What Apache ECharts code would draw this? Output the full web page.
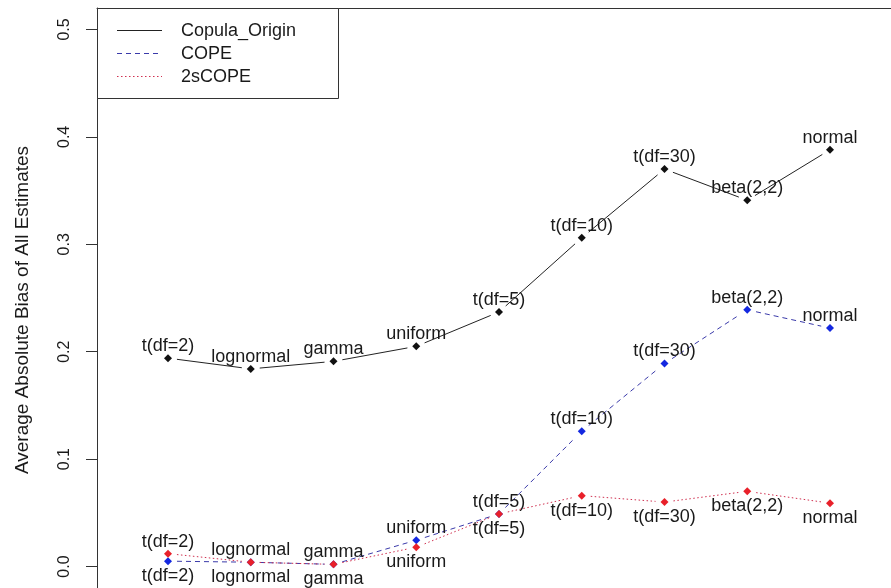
<!DOCTYPE html>
<html>
<head>
<meta charset="utf-8">
<script src="https://cdn.jsdelivr.net/npm/echarts@6/dist/echarts.min.js"></script>
<style>
  html, body { margin: 0; padding: 0; background: #fff; }
  #chart { width: 891px; height: 588px; }
</style>
</head>
<body>
<div id="chart"></div>
<script>
// Distributions on the x axis, in plotting order
const categories = ['t(df=2)', 'lognormal', 'gamma', 'uniform', 't(df=5)', 't(df=10)', 't(df=30)', 'beta(2,2)', 'normal'];

// Average absolute bias for each method
const copulaOrigin = [0.194, 0.184, 0.191, 0.205, 0.237, 0.306, 0.370, 0.341, 0.388];
const cope         = [0.005, 0.004, 0.002, 0.0245, 0.049, 0.126, 0.189, 0.239, 0.222];
const twoSCope     = [0.012, 0.004, 0.002, 0.018, 0.049, 0.066, 0.060, 0.070, 0.059];

// Y tick values
const yTicks = [0.0, 0.1, 0.2, 0.3, 0.4, 0.5];

// Which side of the point each label sits on
const copulaLabelSide = ['top', 'top', 'top', 'top', 'top', 'top', 'top', 'top', 'top'];
const copeLabelSide   = ['bottom', 'bottom', 'bottom', 'top', 'top', 'top', 'top', 'top', 'top'];
const twoSLabelSide   = ['top', 'top', 'top', 'bottom', 'bottom', 'bottom', 'bottom', 'bottom', 'bottom'];

const FONT = '"Liberation Sans", Arial, Helvetica, sans-serif';
const GAP = 9; // blank space left around each point (type "b" lines)

// Connecting segments that stop short of the points
function segmentSeries(values, color, dash, z) {
  const data = values.slice(0, -1).map((v, i) => [i + 1, v, i + 2, values[i + 1]]);
  return {
    type: 'custom',
    silent: true,
    z: z,
    data: data,
    encode: { x: [0, 2], y: [1, 3] },
    renderItem: function (params, api) {
      const a = api.coord([api.value(0), api.value(1)]);
      const b = api.coord([api.value(2), api.value(3)]);
      const dx = b[0] - a[0], dy = b[1] - a[1];
      const len = Math.sqrt(dx * dx + dy * dy);
      if (len <= 2 * GAP) return null;
      const ux = dx / len, uy = dy / len;
      return {
        type: 'line',
        shape: { x1: a[0] + ux * GAP, y1: a[1] + uy * GAP, x2: b[0] - ux * GAP, y2: b[1] - uy * GAP },
        style: { stroke: color, lineWidth: 1, lineDash: dash, fill: null }
      };
    }
  };
}

// Points with their distribution labels
function pointSeries(values, color, sides, z) {
  return {
    type: 'scatter',
    z: z,
    symbol: 'diamond',
    symbolSize: [8, 8],
    itemStyle: { color: color, opacity: 1 },
    data: values.map((v, i) => ({
      value: [i + 1, v],
      label: { position: sides[i], distance: sides[i] === 'top' ? -1 : 2 }
    })),
    label: {
      show: true,
      formatter: p => categories[p.dataIndex],
      fontFamily: FONT,
      fontSize: 18,
      color: '#1a1a1a'
    },
    emphasis: { disabled: true }
  };
}

const chart = echarts.init(document.getElementById('chart'), null, { renderer: 'canvas' });

const legendRows = [
  { name: 'Copula_Origin', color: '#222', dash: null },
  { name: 'COPE', color: '#3a3aaa', dash: [5, 4] },
  { name: '2sCOPE', color: '#d03050', dash: [1.5, 2.5] }
];

const legendGraphics = [{
  type: 'rect',
  shape: { x: 97.5, y: 8.5, width: 241, height: 90 },
  style: { fill: '#fff', stroke: '#333', lineWidth: 1 },
  z: 100
}];
legendRows.forEach((row, i) => {
  const y = 30.5 + i * 23;
  legendGraphics.push({
    type: 'line',
    shape: { x1: 117, y1: y, x2: 162, y2: y },
    style: { stroke: row.color, lineWidth: 1, lineDash: row.dash },
    z: 101
  });
  legendGraphics.push({
    type: 'text',
    x: 181, y: y + 1,
    style: { text: row.name, fill: '#1a1a1a', font: '18px ' + FONT, verticalAlign: 'middle', align: 'left' },
    z: 101
  });
});

// Y axis title
legendGraphics.push({
  type: 'text',
  x: 23, y: 310,
  rotation: Math.PI / 2,
  style: {
    text: 'Average Absolute Bias of All Estimates',
    fill: '#1a1a1a', font: '19px ' + FONT, align: 'center', verticalAlign: 'middle'
  },
  z: 101
});

chart.setOption({
  animation: false,
  backgroundColor: '#fff',
  grid: {
    left: 97, top: 8, right: 0, bottom: 0,
    show: false,
    outerBoundsMode: 'none'
  },
  xAxis: {
    type: 'value',
    position: 'top',
    min: 0.142, max: 9.737,
    axisLine: { show: true, onZero: false, lineStyle: { color: '#333', width: 1 } },
    axisTick: { show: false },
    axisLabel: { show: false },
    splitLine: { show: false }
  },
  yAxis: {
    type: 'value',
    min: -0.02, max: 0.52,
    axisLine: { show: true, onZero: false, lineStyle: { color: '#333', width: 1 } },
    splitLine: { show: false },
    axisTick: { show: true, customValues: yTicks, length: 11, inside: false, lineStyle: { color: '#333' } },
    axisLabel: {
      customValues: yTicks,
      rotate: 90,
      margin: 24,
      fontFamily: FONT,
      fontSize: 16,
      color: '#1a1a1a',
      formatter: v => v.toFixed(1)
    }
  },
  graphic: legendGraphics,
  series: [
    segmentSeries(copulaOrigin, '#222', null, 2),
    pointSeries(copulaOrigin, '#111', copulaLabelSide, 3),
    segmentSeries(cope, '#3a3aaa', [5, 4], 4),
    pointSeries(cope, '#1428e0', copeLabelSide, 5),
    segmentSeries(twoSCope, '#d03050', [1.5, 2.5], 6),
    pointSeries(twoSCope, '#e8202a', twoSLabelSide, 7)
  ]
});
</script>
</body>
</html>
